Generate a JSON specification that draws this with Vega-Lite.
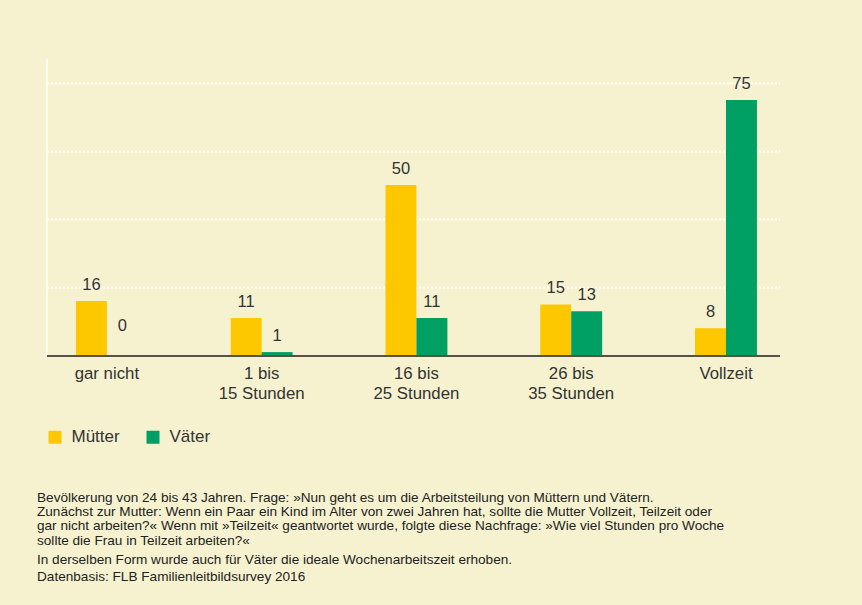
{
  "$schema": "https://vega.github.io/schema/vega-lite/v6.json",
  "autosize": "none",
  "width": 733,
  "height": 297.5,
  "padding": {"left": 46.5, "top": 58, "right": 82.5, "bottom": 249.5},
  "background": "#f6f2d0",
  "title": {
    "text": [
      "Bevölkerung von 24 bis 43 Jahren. Frage: »Nun geht es um die Arbeitsteilung von Müttern und Vätern.",
      "Zunächst zur Mutter: Wenn ein Paar ein Kind im Alter von zwei Jahren hat, sollte die Mutter Vollzeit, Teilzeit oder",
      "gar nicht arbeiten?« Wenn mit »Teilzeit« geantwortet wurde, folgte diese Nachfrage: »Wie viel Stunden pro Woche",
      "sollte die Frau in Teilzeit arbeiten?«"
    ],
    "subtitle": [
      "In derselben Form wurde auch für Väter die ideale Wochenarbeitszeit erhoben.",
      "Datenbasis: FLB Familienleitbildsurvey 2016"
    ],
    "orient": "bottom",
    "anchor": "start",
    "frame": "group",
    "dx": -9.5,
    "offset": 45,
    "font": "Liberation Sans",
    "fontSize": 13.6,
    "fontWeight": "normal",
    "color": "#222222",
    "lineHeight": 14.4,
    "subtitleFont": "Liberation Sans",
    "subtitleFontSize": 13.6,
    "subtitleColor": "#222222",
    "subtitleLineHeight": 17,
    "subtitlePadding": 6
  },
  "data": {
    "values": [
      {"kategorie": "gar nicht", "gruppe": "Mütter", "wert": 16},
      {"kategorie": "gar nicht", "gruppe": "Väter", "wert": 0},
      {"kategorie": "1 bis 15 Stunden", "gruppe": "Mütter", "wert": 11},
      {"kategorie": "1 bis 15 Stunden", "gruppe": "Väter", "wert": 1},
      {"kategorie": "16 bis 25 Stunden", "gruppe": "Mütter", "wert": 50},
      {"kategorie": "16 bis 25 Stunden", "gruppe": "Väter", "wert": 11},
      {"kategorie": "26 bis 35 Stunden", "gruppe": "Mütter", "wert": 15},
      {"kategorie": "26 bis 35 Stunden", "gruppe": "Väter", "wert": 13},
      {"kategorie": "Vollzeit", "gruppe": "Mütter", "wert": 8},
      {"kategorie": "Vollzeit", "gruppe": "Väter", "wert": 75}
    ]
  },
  "encoding": {
    "x": {
      "field": "kategorie",
      "type": "nominal",
      "sort": ["gar nicht", "1 bis 15 Stunden", "16 bis 25 Stunden", "26 bis 35 Stunden", "Vollzeit"],
      "scale": {"paddingInner": 0.6, "paddingOuter": 0.168, "align": 0.566},
      "axis": {
        "title": null,
        "labelAngle": 0,
        "labelExpr": "split(replace(datum.label, ' bis ', ' bis|'), '|')",
        "labelFont": "Liberation Sans",
        "labelFontSize": 16.8,
        "labelColor": "#333333",
        "labelLineHeight": 20,
        "labelPadding": 10,
        "labelBaseline": "top",
        "ticks": false,
        "domainColor": "#55524a",
        "domainWidth": 2,
        "grid": false,
        "zindex": 1
      }
    },
    "xOffset": {
      "field": "gruppe",
      "type": "nominal",
      "sort": ["Mütter", "Väter"],
      "scale": {"paddingInner": 0, "paddingOuter": 0}
    },
    "y": {
      "field": "wert",
      "type": "quantitative",
      "scale": {"domain": [0, 87.3], "nice": false},
      "axis": {
        "title": null,
        "labels": false,
        "ticks": false,
        "values": [20, 40, 60, 80],
        "domainColor": "#ffffff",
        "domainWidth": 1.3,
        "gridColor": "#ffffff",
        "gridWidth": 2,
        "gridDash": [2, 2],
        "gridOpacity": 1
      }
    }
  },
  "layer": [
    {
      "mark": {"type": "bar"},
      "encoding": {
        "color": {
          "field": "gruppe",
          "type": "nominal",
          "sort": ["Mütter", "Väter"],
          "scale": {"domain": ["Mütter", "Väter"], "range": ["#fec800", "#00a064"]},
          "legend": {
            "title": null,
            "orient": "none",
            "legendX": 0,
            "legendY": 370.5,
            "direction": "horizontal",
            "symbolType": "square",
            "symbolSize": 169,
            "symbolStrokeWidth": 0,
            "labelFont": "Liberation Sans",
            "labelFontSize": 17,
            "labelColor": "#333333",
            "labelOffset": 8,
            "columnPadding": 24,
            "padding": 0
          }
        }
      }
    },
    {
      "transform": [{"filter": "datum.wert > 0"}],
      "mark": {"type": "text", "baseline": "middle", "dy": -16, "font": "Liberation Sans", "fontSize": 16.5, "color": "#333333"},
      "encoding": {"text": {"field": "wert", "type": "quantitative"}}
    },
    {
      "transform": [{"filter": "datum.wert == 0"}],
      "mark": {"type": "text", "baseline": "middle", "dy": -30, "font": "Liberation Sans", "fontSize": 16.5, "color": "#333333"},
      "encoding": {"text": {"field": "wert", "type": "quantitative"}}
    }
  ],
  "config": {
    "view": {"stroke": null}
  }
}
